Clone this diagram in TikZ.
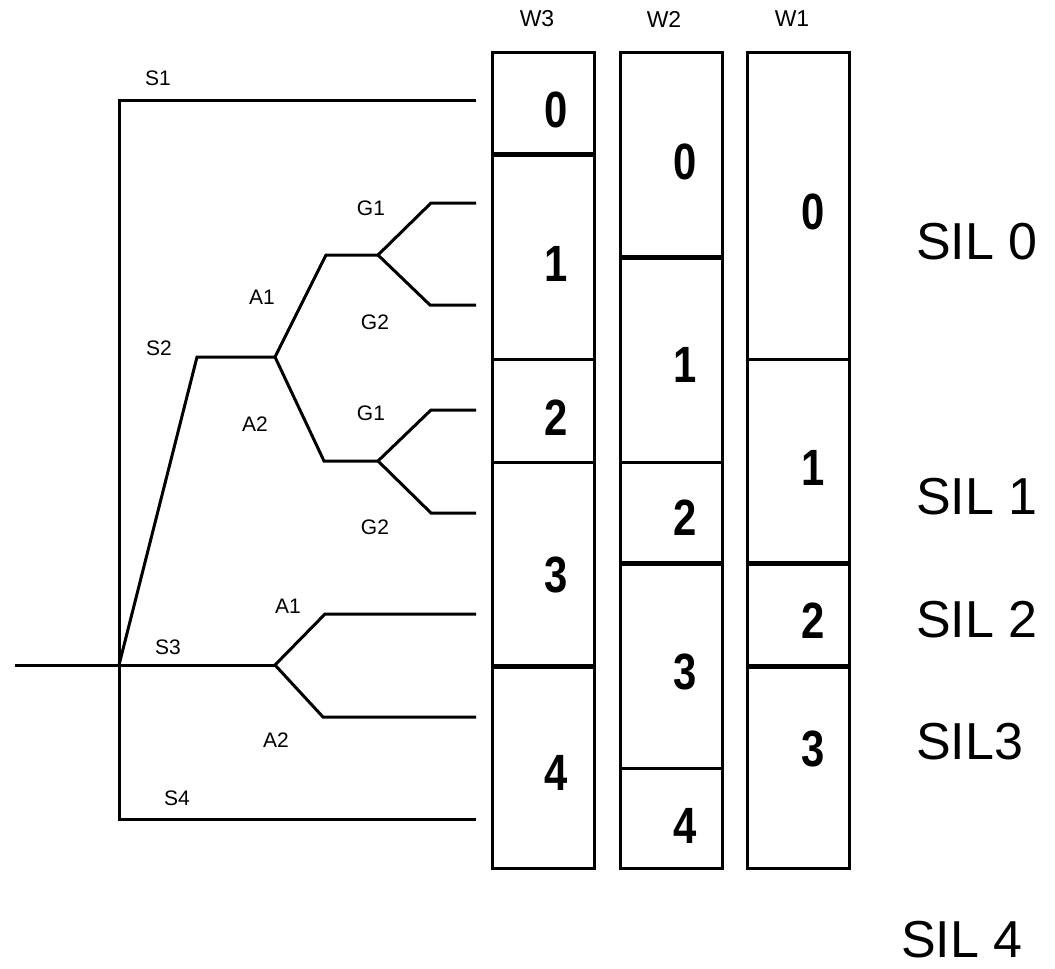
\documentclass[tikz,border=0pt]{standalone}
\usepackage{fontspec}
\setmainfont{Liberation Sans}
\begin{document}
\begin{tikzpicture}[x=1pt,y=-1pt,
  wire/.style={line width=3pt, line join=miter},
  colbox/.style={draw, line width=3pt, minimum width=102pt, minimum height=816pt, inner sep=0pt},
  thickdiv/.style={line width=5pt},
  thindiv/.style={line width=3pt},
  lbl/.style={font=\fontsize{21}{24}\selectfont, inner sep=0pt},
  dig/.style={font=\bfseries\fontsize{51}{60}\selectfont, inner sep=0pt, xscale=0.82},
  hdr/.style={font=\fontsize{23}{26}\selectfont, inner sep=0pt},
  sil/.style={font=\fontsize{52}{60}\selectfont, anchor=west, inner sep=0pt}]
\useasboundingbox (0,0) rectangle (1055,969);

% tree coordinates
\coordinate (in) at (15,665);
\coordinate (root) at (119,665);
\coordinate (s1c) at (119,100);
\coordinate (s1e) at (476,100);
\coordinate (s4c) at (119,819);
\coordinate (s4e) at (476,819);
\coordinate (s3b) at (275,665);
\coordinate (s3a1) at (325,614);
\coordinate (s3a1e) at (476,614);
\coordinate (s3a2) at (323,717);
\coordinate (s3a2e) at (476,717);
\coordinate (s2k) at (197,357);
\coordinate (s2b) at (275,357);
\coordinate (a1k) at (326,255);
\coordinate (a1b) at (378,255);
\coordinate (g1k) at (431,203);
\coordinate (g1e) at (476,203);
\coordinate (g2k) at (430,305);
\coordinate (g2e) at (476,305);
\coordinate (a2k) at (324,461);
\coordinate (a2b) at (378,461);
\coordinate (g1k2) at (431,410);
\coordinate (g1e2) at (476,410);
\coordinate (g2k2) at (431,513);
\coordinate (g2e2) at (476,513);

\draw[wire] (s1e) -- (s1c) -- (s4c) -- (s4e);
\draw[wire] (in) -- (root) -- (s3b);
\draw[wire] (s3b) -- (s3a1) -- (s3a1e);
\draw[wire] (s3b) -- (s3a2) -- (s3a2e);
\draw[wire] (root) -- (s2k) -- (s2b);
\draw[wire] (s2b) -- (a1k) -- (a1b);
\draw[wire] (a1b) -- (g1k) -- (g1e);
\draw[wire] (a1b) -- (g2k) -- (g2e);
\draw[wire] (s2b) -- (a2k) -- (a2b);
\draw[wire] (a2b) -- (g1k2) -- (g1e2);
\draw[wire] (a2b) -- (g2k2) -- (g2e2);

% tree labels
\node[lbl] (ls1) at (158,78) {S1};
\node[lbl] (lg1a) at (371,208) {G1};
\node[lbl] (la1a) at (262,297) {A1};
\node[lbl] (lg2a) at (375,322) {G2};
\node[lbl] (ls2) at (159,348) {S2};
\node[lbl] (la2a) at (255,424) {A2};
\node[lbl] (lg1b) at (371,413) {G1};
\node[lbl] (lg2b) at (375,527) {G2};
\node[lbl] (la1b) at (288,606) {A1};
\node[lbl] (ls3) at (168,647) {S3};
\node[lbl] (la2b) at (276,740) {A2};
\node[lbl] (ls4) at (177,798) {S4};

% columns
\node[colbox] (w3) at (543,460) {};
\node[colbox] (w2) at (671.5,460) {};
\node[colbox] (w1) at (798.5,460) {};

\node[hdr] (h3) at (537,19) {W3};
\node[hdr] (h2) at (664,19) {W2};
\node[hdr] (h1) at (792,19) {W1};

% dividers W3
\draw[thickdiv] (w3.west |- 0,154) -- (w3.east |- 0,154);
\draw[thindiv] (w3.west |- 0,359) -- (w3.east |- 0,359);
\draw[thindiv] (w3.west |- 0,462) -- (w3.east |- 0,462);
\draw[thickdiv] (w3.west |- 0,666) -- (w3.east |- 0,666);
% dividers W2
\draw[thickdiv] (w2.west |- 0,257) -- (w2.east |- 0,257);
\draw[thindiv] (w2.west |- 0,462) -- (w2.east |- 0,462);
\draw[thickdiv] (w2.west |- 0,563) -- (w2.east |- 0,563);
\draw[thindiv] (w2.west |- 0,768) -- (w2.east |- 0,768);
% dividers W1
\draw[thindiv] (w1.west |- 0,359) -- (w1.east |- 0,359);
\draw[thickdiv] (w1.west |- 0,563) -- (w1.east |- 0,563);
\draw[thickdiv] (w1.west |- 0,666) -- (w1.east |- 0,666);

% digits
\node[dig] (d30) at (556,110) {0};
\node[dig] (d31) at (556,264) {1};
\node[dig] (d32) at (556,418) {2};
\node[dig] (d33) at (556,575) {3};
\node[dig] (d34) at (556,773) {4};
\node[dig] (d20) at (685,162) {0};
\node[dig] (d21) at (685,365) {1};
\node[dig] (d22) at (685,518) {2};
\node[dig] (d23) at (685,672) {3};
\node[dig] (d24) at (685,826) {4};
\node[dig] (d10) at (813,212) {0};
\node[dig] (d11) at (813,468) {1};
\node[dig] (d12) at (813,621) {2};
\node[dig] (d13) at (813,749) {3};

% SIL labels
\node[sil] (sil0) at (916,242) {SIL 0};
\node[sil] (sil1) at (916,497) {SIL 1};
\node[sil] (sil2) at (916,620) {SIL 2};
\node[sil] (sil3) at (916,742) {SIL3};
\node[sil] (sil4) at (901,940) {SIL 4};
\end{tikzpicture}
\end{document}
